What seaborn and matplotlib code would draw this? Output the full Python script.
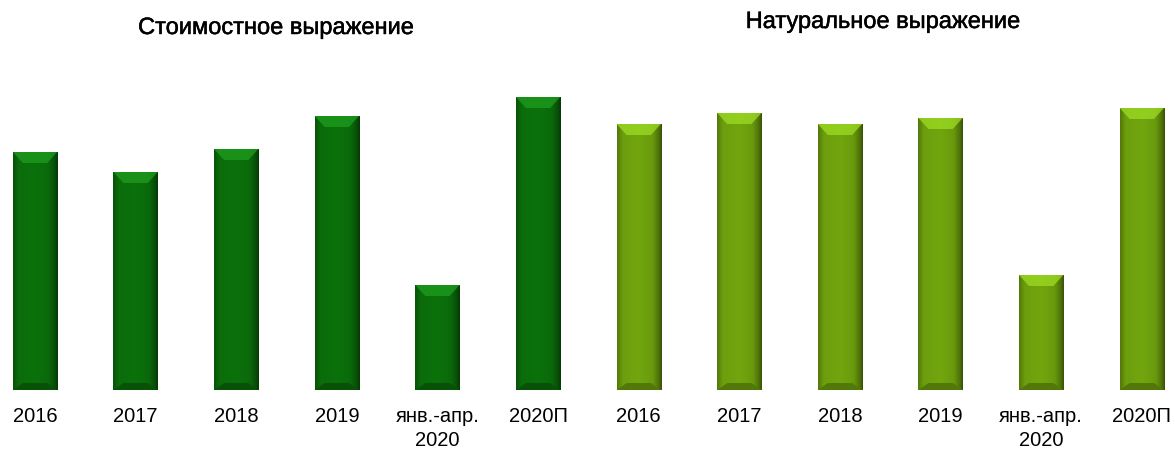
import numpy as np
import pandas as pd
import seaborn as sns
import matplotlib.pyplot as plt
import matplotlib.patheffects as pe
from matplotlib.patches import Polygon
from matplotlib.colors import to_rgb

# data (relative bar heights)
periods = ["2016", "2017", "2018", "2019", "янв.-апр.\n2020", "2020П"]
value_series = [238, 218, 241, 274, 105, 293]
volume_series = [266, 277, 266, 272, 115, 282]
titles = ["Стоимостное выражение", "Натуральное выражение"]
colors = ["#0b720b", "#72a60e"]

df = pd.DataFrame({
    "slot": [f"v{i}" for i in range(6)] + [f"n{i}" for i in range(6)],
    "label": periods + periods,
    "value": value_series + volume_series,
    "group": ["value"] * 6 + ["volume"] * 6,
})

sns.set_theme(style="white")
plt.rcParams["font.family"] = ["Liberation Sans", "DejaVu Sans"]

fig = plt.figure(figsize=(11.75, 4.5), dpi=100)
ax = fig.add_axes([0, 60 / 450, 1, 390 / 450])

sns.barplot(data=df, x="slot", y="value", hue="group", palette=colors,
            dodge=False, width=0.44, legend=False, ax=ax, saturation=1)

ax.set_xlim(-0.348, 11.33)
ax.set_ylim(0, 390)
ax.set_xticks(range(12))
ax.set_xticklabels(df["label"], fontsize=14.5, color="black", linespacing=1.38)
ax.tick_params(axis="x", length=0, pad=12)
ax.set_yticks([])
ax.set_xlabel("")
ax.set_ylabel("")
sns.despine(ax=ax, left=True, bottom=True)

# bevel effect on every bar, derived from the bars seaborn drew
px_x = 11.678 / 1175
bev_x = 10 * px_x
t = np.linspace(0, 1, 80)
shade = np.interp(t, [0, 0.12, 0.5, 0.8, 0.93, 1], [0.72, 0.95, 1.0, 0.92, 0.7, 0.5])
for patch in list(ax.patches):
    x0, y0 = patch.get_x(), patch.get_y()
    w, h = patch.get_width(), patch.get_height()
    base = np.array(to_rgb(patch.get_facecolor()))
    patch.set_edgecolor("none")
    img = np.clip(base[None, :] * shade[:, None], 0, 1)[None, :, :]
    im = ax.imshow(img, extent=(x0, x0 + w, y0, y0 + h), aspect="auto",
                   zorder=3, interpolation="bicubic")
    im.set_clip_path(patch)
    top = y0 + h
    light = np.clip(base * 1.22 + 0.07, 0, 1)
    ax.add_patch(Polygon([(x0, top), (x0 + w, top), (x0 + w - bev_x, top - 11),
                          (x0 + bev_x, top - 11)], closed=True,
                         facecolor=light, edgecolor="none", alpha=0.75, zorder=4))
    ax.add_patch(Polygon([(x0, y0), (x0 + bev_x, y0 + 7), (x0 + w - bev_x, y0 + 7),
                          (x0 + w, y0)], closed=True,
                         facecolor=base * 0.72, edgecolor="none", zorder=4))

stroke = [pe.withStroke(linewidth=0.35, foreground="black")]
fig.text(276 / 1175, 1 - 28 / 450, titles[0], ha="center", va="center",
         fontsize=17, color="black", path_effects=stroke)
fig.text(883 / 1175, 1 - 22 / 450, titles[1], ha="center", va="center",
         fontsize=17, color="black", path_effects=stroke)

fig.savefig("out.png", dpi=100)
